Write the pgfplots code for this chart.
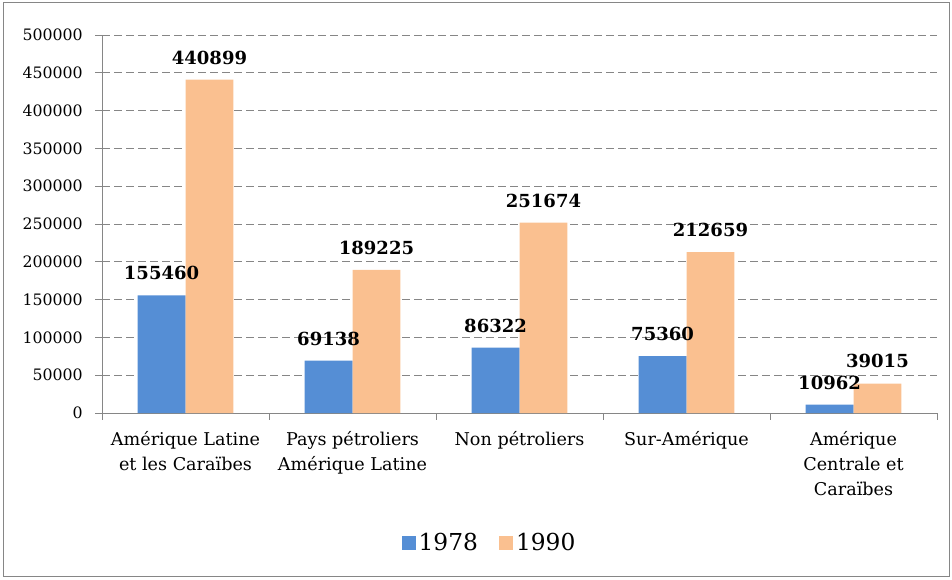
\documentclass[border=0pt]{standalone}
\usepackage{fontspec}
\setmainfont{DejaVu Serif}
\usepackage{pgfplots}
\pgfplotsset{compat=1.18}
\definecolor{bblue}{HTML}{558ED5}
\definecolor{borange}{HTML}{FAC090}
\definecolor{gline}{HTML}{868686}
\begin{document}
\begin{tikzpicture}[x=1pt,y=1pt]
\useasboundingbox (0,0) rectangle (714,434.25);
\draw[gline, line width=0.75pt] (2.25,2.25) rectangle (711.75,432);
\begin{axis}[
  at={(76.5pt,124.5pt)}, anchor=south west,
  scale only axis, width=626.25pt, height=283.5pt,
  xmin=-0.5, xmax=4.5, ymin=0, ymax=500000,
  ybar=0pt, bar width=0.287,
  ytick={0,50000,...,500000},
  scaled y ticks=false,
  yticklabel style={/pgf/number format/fixed, /pgf/number format/1000 sep={}, /pgf/number format/assume math mode=true, font=\fontsize{11.8}{13}\selectfont, xshift=-6pt},
  xtick={0,1,2,3,4},
  xticklabels={{Amérique Latine\\et les Caraïbes},{Pays pétroliers\\Amérique Latine},{Non pétroliers},{Sur-Amérique},{Amérique\\Centrale et\\Caraïbes}},
  xticklabel style={align=center, font=\fontsize{13.2}{18.75}\selectfont, yshift=-5pt},
  xtick style={draw=none},
  extra x ticks={-0.5,0.5,1.5,2.5,3.5,4.5},
  extra x tick labels={},
  extra x tick style={xtick style={draw=gline, line width=0.75pt}},
  axis x line*=bottom, axis y line*=left,
  axis line style={-, gline, line width=0.75pt},
  tick align=outside, major tick length=5pt,
  ytick style={gline, line width=0.75pt},
  ymajorgrids, xmajorgrids=false,
  grid style={gline, line width=0.75pt, dash pattern=on 6pt off 3pt},
  point meta=explicit symbolic,
  nodes near coords,
  every node near coord/.append style={font=\bfseries\fontsize{13.5}{15}\selectfont, black, yshift=8pt},
  legend style={at={(axis description cs:0.4647,-0.344)}, anchor=center, draw=none, legend columns=2, font=\fontsize{17.5}{20}\selectfont, /tikz/every even column/.append style={column sep=14pt}},
]
\addplot[draw=none, fill=bblue, legend image code/.code={\fill[bblue] (0pt,-5.25pt) rectangle (10.5pt,5.25pt);}] coordinates {
 (0,155460) [155460]
 (1,69138) [69138]
 (2,86322) [86322]
 (3,75360) [75360]
 (4,10962) [10962]
};
\addplot[draw=none, fill=borange, legend image code/.code={\fill[borange] (0pt,-5.25pt) rectangle (10.5pt,5.25pt);}] coordinates {
 (0,440899) [440899]
 (1,189225) [189225]
 (2,251674) [251674]
 (3,212659) [212659]
 (4,39015) [39015]
};
\legend{1978,1990}
\end{axis}
\end{tikzpicture}
\end{document}
